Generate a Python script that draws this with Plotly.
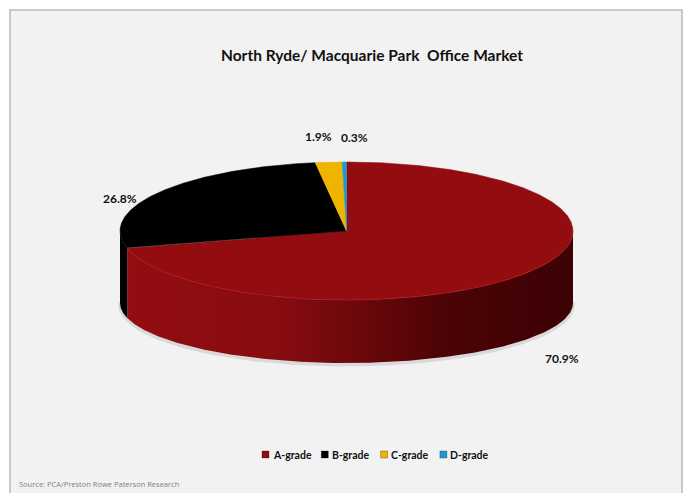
import numpy as np
import plotly.graph_objects as go

# ---- data ---------------------------------------------------------------
grades = ["A-grade", "B-grade", "C-grade", "D-grade"]
shares = [70.9, 26.8, 1.9, 0.3]
share_labels = ["70.9%", "26.8%", "1.9%", "0.3%"]

title_text = "North Ryde/ Macquarie Park  Office Market"
source_text = "Source: PCA/Preston Rowe Paterson Research"

# ---- styling ------------------------------------------------------------
top_colors = ["#920c10", "#000000", "#eeb400", "#1d9ad6"]
side_colors = ["#8e0c10", "#000000", "#c99400", "#157bb0"]
label_offsets = [(36, 13), (-38, 6), (-10, -26), (10, -25)]

W, H = 684, 493
CX, CY = 346.5, 231.0      # centre of the top face
RX, RY = 226.5, 69.0       # radii of the top face
BCY, BRY = 303.0, 60.0     # bottom rim ellipse (perspective)
FONT = "Lato"


def rim(theta_deg, cy=CY, ry=RY):
    """Point on an elliptical rim; angle measured clockwise from 12 o'clock."""
    t = np.radians(theta_deg)
    return CX + RX * np.sin(t), cy - ry * np.cos(t)


total = sum(shares)
bounds = np.concatenate([[0.0], np.cumsum(shares)]) / total * 360.0

fig = go.Figure()

# soft shadow under the front edge
th = np.linspace(88, 272, 300)
sx, sy = rim(th, BCY + 1.5, BRY)
fig.add_trace(go.Scatter(x=sx, y=sy, mode="lines",
                         line=dict(color="rgba(0,0,0,0.10)", width=4),
                         hoverinfo="skip", showlegend=False))

# side walls (only the front half, 90..270 degrees, is visible)
for i, g in enumerate(grades):
    a0, a1 = max(bounds[i], 90.0), min(bounds[i + 1], 270.0)
    if a1 <= a0:
        continue
    th = np.linspace(a0, a1, 240)
    xt, yt = rim(th)
    xb, yb = rim(th[::-1], BCY, BRY)
    xs = np.concatenate([xt, xb, xt[:1]])
    ys = np.concatenate([yt, yb, yt[:1]])
    kw = dict(fillcolor=side_colors[i])
    if i == 0:
        kw = dict(fillgradient=dict(
            type="horizontal", start=CX - RX, stop=CX + RX,
            colorscale=[[0.0, "#930d11"], [0.35, "#870c10"], [0.53, "#6b080b"],
                        [0.71, "#4d0306"], [0.9, "#410205"], [1.0, "#3c0204"]]))
    fig.add_trace(go.Scatter(x=xs, y=ys, mode="lines", fill="toself",
                             line=dict(width=0, color=side_colors[i]),
                             hoverinfo="skip", showlegend=False, **kw))

# top face sectors
for i, g in enumerate(grades):
    th = np.linspace(bounds[i], bounds[i + 1], max(int((bounds[i + 1] - bounds[i]) * 2), 6))
    ax_, ay_ = rim(th)
    xs = np.concatenate([[CX], ax_, [CX]])
    ys = np.concatenate([[CY], ay_, [CY]])
    fig.add_trace(go.Scatter(x=xs, y=ys, mode="lines", fill="toself",
                             fillcolor=top_colors[i],
                             line=dict(width=0.5, color=top_colors[i]),
                             name=g, hoverinfo="skip", showlegend=False))

# faint highlight on the front rim of the largest slice
th = np.linspace(max(bounds[0], 90), min(bounds[1], 270), 200)
hx, hy = rim(th)
fig.add_trace(go.Scatter(x=hx, y=hy, mode="lines",
                         line=dict(color="rgba(180,24,30,0.7)", width=1),
                         hoverinfo="skip", showlegend=False))

annotations = []

# percentage labels anchored to each slice's mid angle
for i, lab in enumerate(share_labels):
    mid = (bounds[i] + bounds[i + 1]) / 2
    px, py = rim(mid)
    if 90 < mid < 270:
        py += BCY - CY
    dx, dy = label_offsets[i]
    annotations.append(dict(x=px + dx, y=py + dy, text=lab, showarrow=False,
                            xref="x", yref="y", xanchor="center", yanchor="middle",
                            font=dict(family=FONT, size=12, color="#111111", weight="bold")))

# title
annotations.append(dict(x=372, y=55, text=title_text, showarrow=False,
                        xref="x", yref="y", xanchor="center", yanchor="middle",
                        font=dict(family=FONT, size=15.5, color="#111111", weight="bold")))

# source note
annotations.append(dict(x=17, y=484, text=source_text, showarrow=False,
                        xref="x", yref="y", xanchor="left", yanchor="middle",
                        font=dict(family="Open Sans", size=7.5, color="#7f7f7f")))

# legend row
leg_x0, leg_dx, leg_y = 265.5, 59.3, 454.5
leg_x = [leg_x0 + k * leg_dx for k in range(len(grades))]
fig.add_trace(go.Scatter(x=leg_x, y=[leg_y] * len(grades), mode="markers",
                         marker=dict(symbol="square", size=7, color=top_colors,
                                     line=dict(width=0.6, color="rgba(0,0,0,0.45)")),
                         hoverinfo="skip", showlegend=False))
for k, g in enumerate(grades):
    annotations.append(dict(x=leg_x[k] + 5, y=leg_y, text=g, showarrow=False,
                            xref="x", yref="y", xanchor="left", yanchor="middle",
                            font=dict(family=FONT, size=10.5, color="#111111", weight="bold")))

fig.update_layout(
    width=W, height=H,
    margin=dict(l=0, r=0, t=0, b=0),
    paper_bgcolor="white", plot_bgcolor="rgba(0,0,0,0)",
    xaxis=dict(range=[0, W], visible=False, fixedrange=True),
    yaxis=dict(range=[H, 0], visible=False, fixedrange=True),
    shapes=[dict(type="rect", xref="x", yref="y", x0=10, y0=10, x1=682, y1=H + 5,
                 fillcolor="#f2f2f2", line=dict(color="#b8b8b8", width=1.5),
                 layer="below")],
    annotations=annotations,
    showlegend=False,
)

fig.write_html("out.html")
